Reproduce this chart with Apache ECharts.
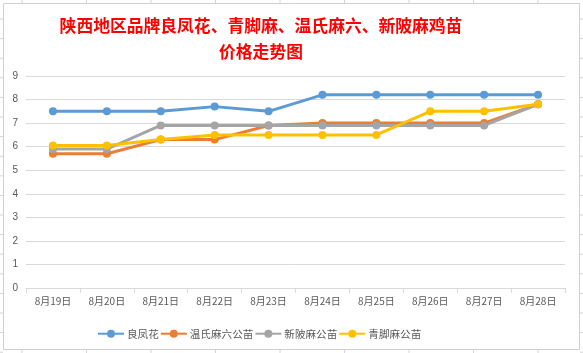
<!DOCTYPE html>
<html>
<head>
<meta charset="utf-8">
<script src="https://cdn.jsdelivr.net/npm/echarts@6/dist/echarts.min.js"></script>
<style>
  html, body { margin: 0; padding: 0; background: #fff; }
  #chart { width: 583px; height: 353px; }
</style>
</head>
<body>
<div id="chart"></div>
<script>
var days = ['8月19日', '8月20日', '8月21日', '8月22日', '8月23日', '8月24日', '8月25日', '8月26日', '8月27日', '8月28日'];
var liangFengHua = [7.5, 7.5, 7.5, 7.7, 7.5, 8.2, 8.2, 8.2, 8.2, 8.2];
var wenShiMaLiu = [5.7, 5.7, 6.3, 6.3, 6.9, 7.0, 7.0, 7.0, 7.0, 7.8];
var xinPoMa = [5.9, 5.9, 6.9, 6.9, 6.9, 6.9, 6.9, 6.9, 6.9, 7.8];
var qingJiaoMa = [6.05, 6.05, 6.3, 6.5, 6.5, 6.5, 6.5, 7.5, 7.5, 7.8];

var chart = echarts.init(document.getElementById('chart'));

// 表格背景的单元格线（图表框外露出的部分）
var sheet = [];
for (var x = 22; x < 583; x += 64.5) {
    sheet.push({type: 'line', shape: {x1: x, y1: 0, x2: x, y2: 3}, style: {stroke: '#d4d4d4', lineWidth: 1}});
    sheet.push({type: 'line', shape: {x1: x, y1: 350, x2: x, y2: 353}, style: {stroke: '#d4d4d4', lineWidth: 1}});
}
for (var y = 19; y < 353; y += 19.6) {
    sheet.push({type: 'line', shape: {x1: 0, y1: y, x2: 3, y2: y}, style: {stroke: '#d4d4d4', lineWidth: 1}});
    sheet.push({type: 'line', shape: {x1: 580, y1: y, x2: 583, y2: y}, style: {stroke: '#d4d4d4', lineWidth: 1}});
}
sheet.push({type: 'rect', shape: {x: 3.5, y: 3.5, width: 576, height: 346}, style: {fill: 'none', stroke: '#d0d0d0', lineWidth: 1}, z: -1});

function mkSeries(name, data, color) {
    return {
        name: name,
        type: 'line',
        data: data,
        symbol: 'circle',
        symbolSize: 8,
        itemStyle: {color: color},
        lineStyle: {width: 3, color: color}
    };
}

option = {
    backgroundColor: '#fff',
    animation: false,
    title: {
        text: '陕西地区品牌良凤花、青脚麻、温氏麻六、新陂麻鸡苗\n价格走势图',
        left: 256,
        textAlign: 'center',
        top: 8,
        textStyle: {
            color: '#ff0000',
            fontSize: 16.8,
            fontWeight: 'bold',
            fontFamily: 'Noto Sans CJK SC',
            lineHeight: 26
        }
    },
    graphic: sheet,
    legend: {
        bottom: 14,
        left: 97,
        padding: 0,
        itemWidth: 26,
        itemHeight: 10,
        itemGap: 1,
        textStyle: {color: '#595959', fontSize: 10.6, fontFamily: 'Noto Sans CJK SC', padding: [0, 0, 0, -2]},
        data: ['良凤花', '温氏麻六公苗', '新陂麻公苗', '青脚麻公苗']
    },
    grid: {
        left: 26,
        right: 18,
        top: 76,
        bottom: 65
    },
    xAxis: {
        type: 'category',
        data: days,
        boundaryGap: true,
        axisLine: {lineStyle: {color: '#d9d9d9'}},
        axisTick: {show: true, alignWithLabel: false, length: 5, lineStyle: {color: '#d9d9d9'}},
        axisLabel: {color: '#595959', fontSize: 10, margin: 8, interval: 0, fontFamily: 'Noto Sans CJK SC'}
    },
    yAxis: {
        type: 'value',
        min: 0,
        max: 9,
        interval: 1,
        axisLine: {show: false},
        axisTick: {show: false},
        axisLabel: {color: '#595959', fontSize: 10, margin: 8},
        splitLine: {lineStyle: {color: '#d9d9d9'}}
    },
    series: [
        mkSeries('良凤花', liangFengHua, '#5b9bd5'),
        mkSeries('温氏麻六公苗', wenShiMaLiu, '#ed7d31'),
        mkSeries('新陂麻公苗', xinPoMa, '#a5a5a5'),
        mkSeries('青脚麻公苗', qingJiaoMa, '#ffc000')
    ]
};
chart.setOption(option);
</script>
</body>
</html>
